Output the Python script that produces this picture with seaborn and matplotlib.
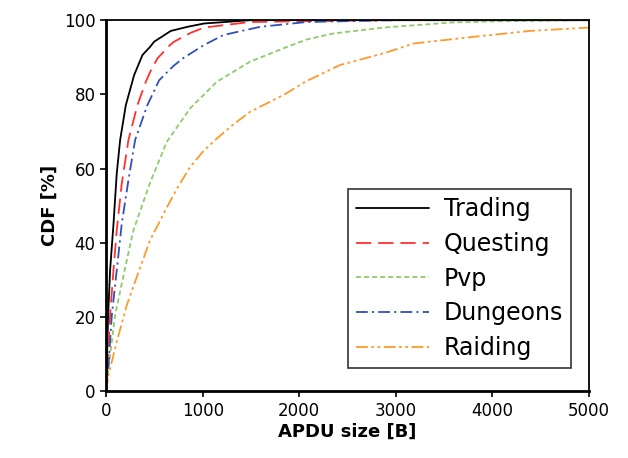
import matplotlib
matplotlib.use("Agg")
import matplotlib.pyplot as plt
import seaborn as sns

# CDF values (x in bytes, y in percent)
trading_x = [0, 10, 20, 41, 76, 110, 145, 204, 290, 376, 455, 497, 670, 842, 1014, 1500, 5000]
trading_y = [0, 10, 20, 32.6, 45, 58.7, 67.7, 77.1, 85.2, 90.6, 92.8, 94.2, 97.1, 98.2, 99.1, 100, 100]

questing_x = [0, 20, 41, 76, 110, 162, 231, 324, 411, 455, 531, 662, 704, 877, 1014, 1490, 2000, 3000, 5000]
questing_y = [0, 10, 20.5, 32.6, 43.4, 56, 67.7, 77.1, 83.4, 86, 89.7, 93.3, 94.2, 96.6, 98, 99.5, 99.7, 100, 100]

pvp_x = [0, 41, 93, 197, 283, 455, 628, 869, 1146, 1490, 1835, 2077, 2350, 2870, 3595, 4080, 5000]
pvp_y = [0, 9.7, 20.5, 33.3, 43.4, 56.2, 67.2, 76.2, 83.4, 88.8, 92.4, 94.8, 96.4, 98, 99.4, 99.7, 100]

dungeons_x = [0, 24, 59, 110, 162, 231, 300, 427, 549, 662, 704, 800, 904, 1014, 1215, 1594, 2077, 3000, 5000]
dungeons_y = [0, 7, 20.5, 32.6, 45.2, 56.9, 67.7, 77.1, 83.8, 86.8, 87.8, 89.8, 91.5, 93.3, 96, 98.2, 99.5, 100, 100]

raiding_x = [0, 24, 110, 214, 352, 455, 628, 750, 869, 1000, 1146, 1318, 1490, 1835, 2077, 2422, 2905, 3180, 3802, 4389, 5000]
raiding_y = [0, 4.3, 13.3, 23.2, 33.3, 40.7, 49.5, 55.3, 60.4, 64.5, 68.1, 71.9, 75.3, 79.8, 83.6, 87.9, 91.3, 93.7, 95.5, 97.1, 98]

labels = ["Trading", "Questing", "Pvp", "Dungeons", "Raiding"]
xs = [trading_x, questing_x, pvp_x, dungeons_x, raiding_x]
ys = [trading_y, questing_y, pvp_y, dungeons_y, raiding_y]
colors = ["#000000", "#ff3030", "#8fca6a", "#3050b8", "#ff9a2a"]
styles = ["-", (0, (11, 5)), (0, (3.6, 2.2)), (0, (8.5, 3, 1.5, 3)), (0, (8.5, 2.5, 2, 2.5, 2, 2.5))]

sns.set_style("ticks")
plt.rcParams["font.family"] = ["DejaVu Sans"]
plt.rcParams["lines.scale_dashes"] = False
plt.rcParams["text.color"] = "black"
plt.rcParams["axes.labelcolor"] = "black"

figure = plt.figure(figsize=(6.28, 4.58), dpi=100)
ax = figure.add_axes([0.169, 0.146, 0.769, 0.810])

for i in range(len(labels)):
    sns.lineplot(x=xs[i], y=ys[i], ax=ax, color=colors[i], linestyle=styles[i],
                 linewidth=1.3, label=labels[i], estimator=None)

ax.set_xlim(0, 5000)
ax.set_ylim(0, 100)
ax.set_xticks(range(0, 5001, 1000))
ax.set_yticks(range(0, 101, 20))
ax.tick_params(labelsize=12, direction="out", length=4, width=1.2, colors="black")
ax.set_xlabel("APDU size [B]", fontsize=13, fontweight="bold", labelpad=2)
ax.set_ylabel("CDF [%]", fontsize=13, fontweight="bold", labelpad=4)
for s in ["left", "bottom"]:
    ax.spines[s].set_linewidth(2)
for s in ["top", "right"]:
    ax.spines[s].set_linewidth(1.3)
    ax.spines[s].set_visible(True)
for s in ax.spines.values():
    s.set_color("black")

leg = ax.legend(loc="lower right", bbox_to_anchor=(0.963, 0.062), fontsize=17,
                frameon=True, fancybox=False, edgecolor="black", handlelength=3.1,
                labelspacing=0.45, borderpad=0.35, handletextpad=0.6, borderaxespad=0)
leg.get_frame().set_linewidth(1.2)
for t in leg.get_texts():
    t.set_color("black")

figure.savefig("out.png", dpi=100)
